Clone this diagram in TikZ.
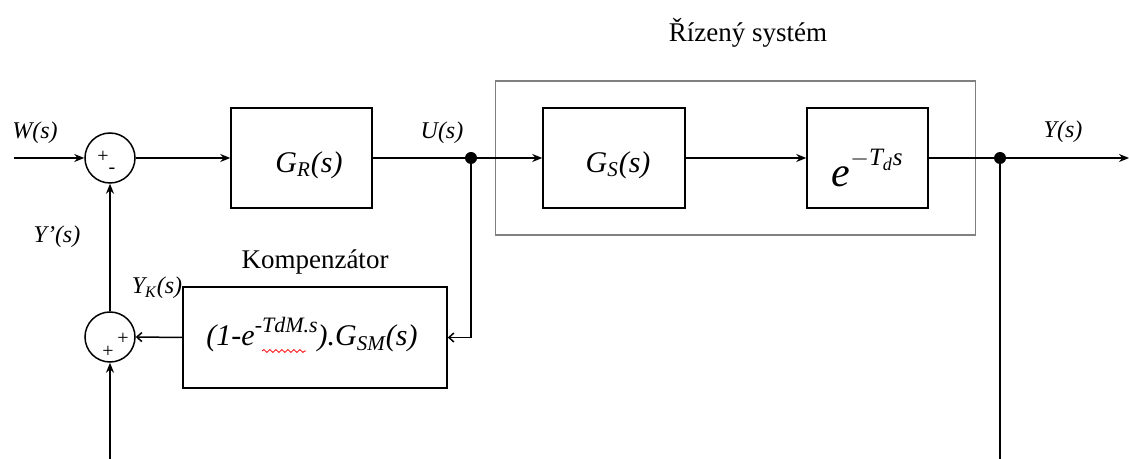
\documentclass[tikz,border=0pt]{standalone}
\usepackage{fontspec}
\setmainfont{Liberation Serif}
\usetikzlibrary{arrows.meta,decorations.pathmorphing}
\begin{document}
\begin{tikzpicture}[x=0.5pt,y=-0.5pt,
  line width=0.75pt,
  blk/.style={draw,line width=0.75pt,inner sep=0pt},
  sumc/.style={draw,circle,minimum size=25pt,inner sep=0pt,line width=0.75pt},
  sgn/.style={font=\fontsize{10}{10}\selectfont,inner sep=0pt},
  lbl/.style={font=\fontsize{12}{13}\selectfont\itshape,inner sep=0pt},
  ttl/.style={font=\fontsize{13.5}{15}\selectfont,inner sep=0pt},
  sarr/.style={-{Stealth[length=5pt,width=4pt]}},
  barb/.style={-{Straight Barb[length=2.5pt,width=4.5pt]}}]
\useasboundingbox (0,0) rectangle (1129,459);
% system frame
\node[draw=gray,line width=0.75pt,minimum width=240pt,minimum height=77pt,inner sep=0pt] (sys) at (735.5,158) {};
\node[ttl] (systxt) at (748,33) {Řízený systém};
% blocks
\node[blk,minimum width=70.5pt,minimum height=50pt] (gr) at (301.5,158) {};
\node[lbl,font=\fontsize{15}{16}\selectfont\itshape] (grtxt) at (309,165) {G\textsubscript{R}(s)};
\node[blk,minimum width=71pt,minimum height=50pt] (gs) at (614,158) {};
\node[lbl,font=\fontsize{15}{16}\selectfont\itshape] (gstxt) at (618,165) {G\textsubscript{S}(s)};
\node[blk,minimum width=60.5pt,minimum height=50pt] (ex) at (867.5,158) {};
\node[font=\fontsize{21}{22}\selectfont\itshape,inner sep=0pt,anchor=base west] (extxt) at (831,187) {e\raisebox{0.5em}{\fontsize{12.5}{12}\selectfont$-$T\textsubscript{\fontsize{9}{9}\selectfont d}s}};
\node[blk,minimum width=132pt,minimum height=50.5pt] (comp) at (315,337.5) {};
\node[lbl,font=\fontsize{15}{16}\selectfont\itshape,anchor=base] (comptxt) at (312,346) {(1-e\raisebox{0.45em}{\fontsize{11}{11}\selectfont -TdM.s}).G\textsubscript{SM}(s)};
\draw[red,line width=0.4pt,decorate,decoration={snake,amplitude=0.7pt,segment length=3pt}] (262,351) -- (306,351);
\node[ttl] (komp) at (315,262) {Kompenzátor};
% summing junctions
\node[sumc] (s1) at (110,158) {};
\node[sgn] (p1) at (103,157) {+};
\node[sgn] (m1) at (112,171) {-};
\node[sumc] (s2) at (110,337) {};
\node[sgn] (p2) at (123,339) {+};
\node[sgn] (p3) at (108,352) {+};
% junction dots
\fill (471,158) circle (3pt) coordinate (j1);
\fill (1000,158) circle (3pt) coordinate (j2);
\coordinate (win) at (14,158);
\coordinate (yout) at (1129,158);
\coordinate (bl) at (110,462);
\coordinate (br) at (1000,462);
% labels
\node[lbl] (w) at (35,133) {W(s)};
\node[lbl] (u) at (442,133) {U(s)};
\node[lbl] (y) at (1063,132) {Y(s)};
\node[lbl] (yp) at (57,237) {Y’(s)};
\node[lbl] (yk) at (157,288) {Y\textsubscript{K}(s)};
% connectors
\draw[sarr] (win) -- (s1.west);
\draw[sarr] (s1.east) -- (gr.west);
\draw (gr.east) -- (j1);
\draw[sarr] (j1) -- (gs.west);
\draw[sarr] (gs.east) -- (ex.west);
\draw (ex.east) -- (j2);
\draw[sarr] (j2) -- (yout);
\draw (j2) -- (br);
\draw[barb] (j1) |- (comp.east);
\draw[barb] (comp.west) -- (s2.east);
\draw[sarr] (s2.north) -- (s1.south);
\draw[sarr] (bl) -- (s2.south);
\end{tikzpicture}
\end{document}
